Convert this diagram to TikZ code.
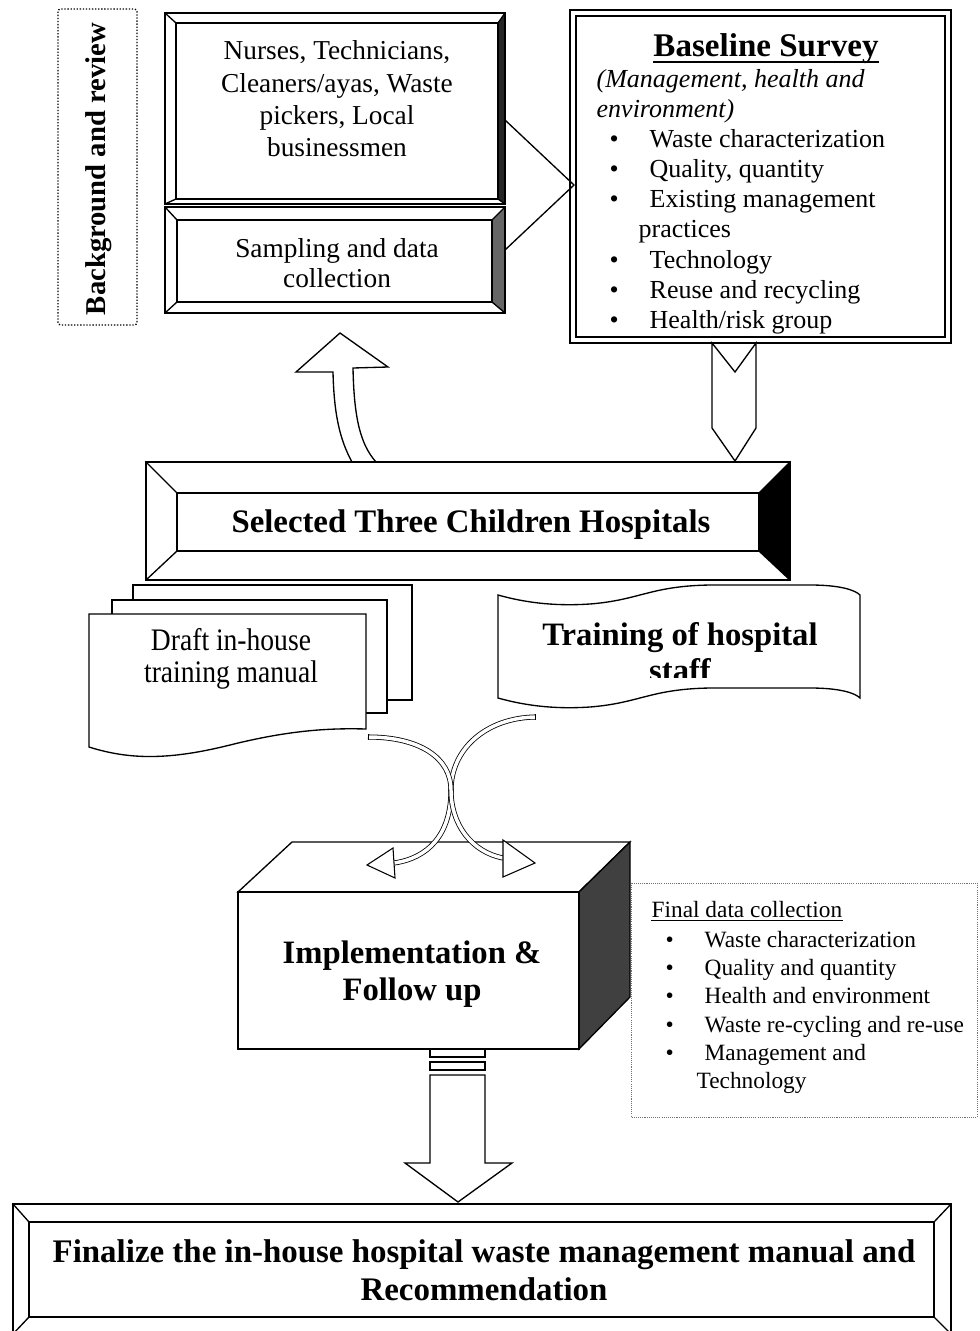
\documentclass[tikz,border=0pt]{standalone}
\usepackage{fontspec}
\setmainfont{Liberation Serif}
\newfontfamily\condfont[FakeStretch=0.88]{Liberation Serif}
\newcommand\fs[2]{\fontsize{#1}{#2}\selectfont}
\newcommand\cblk[1]{\vtop{\halign{\hfil##\hfil\cr#1\crcr}}}
\newcommand\lblk[1]{\vtop{\halign{##\hfil\cr#1\crcr}}}
\newcommand\bsb{\hspace*{9.75pt}\makebox[30pt][l]{\textbullet}}
\newcommand\fdb{\hspace*{10.5pt}\makebox[29.25pt][l]{\textbullet}}
\begin{document}
\begin{tikzpicture}[x=0.75pt,y=-0.75pt,line width=1pt,line join=miter,
  txt/.style={inner sep=0pt,anchor=base},
  hollow/.style={draw=black,line width=0.6pt,double=white,double distance=2.6pt},
  headtri/.style={draw=black,line width=0.8pt,fill=white}]
\fill[white] (0,0) rectangle (980,1331);
\useasboundingbox (0,0) rectangle (980,1331);

% ---------- Background and review ----------
\draw[line width=1pt,dash pattern=on 1pt off 1.3pt,rounded corners=2pt] (58,9) rectangle (137,325);
\node[inner sep=0pt,rotate=90,font=\bfseries\fs{21.5}{26}] (bg) at (99,169) {Background and review};

% ---------- upper bevel box (stakeholders) ----------
\fill[black!85] (498,23) -- (505,13) -- (505,204) -- (498,199) -- cycle;
\draw (165,13) rectangle (505,204);
\draw (176,23) rectangle (498,199);
\draw (165,13) -- (176,23) (505,13) -- (498,23) (165,204) -- (176,199) (505,204) -- (498,199);
\node[txt,font=\fs{20.5}{24.2}] (staff) at (337,60)
  {\cblk{Nurses, Technicians,\cr Cleaners/ayas, Waste\cr pickers, Local\cr businessmen}};

% ---------- lower bevel box (sampling) ----------
\fill[black!60] (492,220) -- (505,207) -- (505,313) -- (492,302) -- cycle;
\draw (165,207) rectangle (505,313);
\draw (177,220) rectangle (492,302);
\draw (165,207) -- (177,220) (505,207) -- (492,220) (165,313) -- (177,302) (505,313) -- (492,302);
\node[txt,font=\fs{20.5}{22.5}] (samp) at (337,257) {\cblk{Sampling and data\cr collection}};

% arrow from boxes to baseline survey
\coordinate (tA) at (505,120);
\coordinate (tB) at (505,250);
\coordinate (tTip) at (574,185);
\draw (tA) -- (tTip) -- (tB);

% ---------- Baseline survey ----------
\draw (570,10) rectangle (951,343);
\draw (576,16) rectangle (945,337);
\node[txt,font=\bfseries\fs{24.8}{28}] (bst) at (766,57) {Baseline Survey};
\draw[line width=1.1pt] ([yshift=-3.8pt]bst.base west) -- ([yshift=-3.8pt]bst.base east);
\node[txt,anchor=base west,font=\fs{19.5}{22.5}] (bsl) at (596,88)
  {\lblk{\itshape (Management, health and\cr
         \itshape environment)\cr
         \bsb Waste characterization\cr
         \bsb Quality, quantity\cr
         \bsb Existing management\cr
         \hspace*{31.5pt}practices\cr
         \bsb Technology\cr
         \bsb Reuse and recycling\cr
         \bsb Health/risk group}};

% notched down arrow
\draw[fill=white] (712,343) -- (735,372) -- (756,343) -- (756,428) -- (735,461) -- (712,428) -- cycle;

% curved up arrow
\draw[fill=white] (340,333) -- (388,367) -- (353,368) .. controls (354,420) and (361,445) .. (376,462)
  -- (352,462) .. controls (340,440) and (334,415) .. (333,372) -- (296,372) -- cycle;

% ---------- Selected three children hospitals ----------
\fill[black] (759,493) -- (790,462) -- (790,580) -- (759,551) -- cycle;
\draw (146,462) rectangle (790,580);
\draw (177,493) rectangle (759,551);
\draw (146,462) -- (177,493) (790,462) -- (759,493) (146,580) -- (177,551) (790,580) -- (759,551);
\node[txt,font=\bfseries\fs{24.6}{28}] (sel) at (471,532) {Selected Three Children Hospitals};

% ---------- Draft manual (multi document) ----------
\draw[fill=white] (133,585) rectangle (412,700);
\draw[fill=white] (112,600) rectangle (387,713);
\draw[fill=white] (89,614) -- (366,614) -- (366,729) .. controls (330,728) and (290,730) .. (230,745)
  .. controls (170,760) and (130,760) .. (89,747) -- cycle;
\node[txt,font=\condfont\fs{23.5}{24}] (draft) at (231,650) {\cblk{Draft in-house\cr training manual}};

% ---------- Training of hospital staff (tape) ----------
\draw[fill=white] (498,595) .. controls (530,604) and (560,606) .. (590,604)
  .. controls (640,600) and (650,586) .. (710,585) -- (810,585)
  .. controls (840,585) and (855,590) .. (860,595) -- (860,698)
  .. controls (855,693) and (840,688) .. (810,688) -- (710,688)
  .. controls (650,689) and (640,703) .. (590,707)
  .. controls (560,709) and (530,707) .. (498,698) -- cycle;
\begin{scope}
  \clip (480,560) rectangle (880,677);
  \node[txt,font=\bfseries\fs{24.5}{27}] (train) at (680,645) {\cblk{Training of hospital\cr staff}};
\end{scope}

% ---------- Implementation box (3D) ----------
\draw[fill=white] (238,892) -- (292,842) -- (630,842) -- (579,892) -- cycle;
\draw[fill=black!75] (579,892) -- (630,842) -- (630,997) -- (579,1049) -- cycle;
\draw[fill=white] (238,892) rectangle (579,1049);
\node[txt,font=\bfseries\fs{24.5}{27.75}] (impl) at (412,963) {\cblk{Implementation \&\cr Follow up}};

% ---------- crossing curved arrows ----------
\draw[hollow] (535,717) .. controls (485,718) and (451,750) .. (451,790)
  .. controls (451,835) and (428,858) .. (394,863);
\draw[line width=0.6pt] (535,714.2) -- (535,719.8);
\draw[headtri] (367,865) -- (393,848) -- (395,878) -- cycle;
\draw[hollow] (368,737) .. controls (420,737) and (451,758) .. (451,790)
  .. controls (451,825) and (472,852) .. (503,858);
\draw[line width=0.6pt] (368,734.2) -- (368,739.8);
\draw[headtri] (535,863) -- (503,840) -- (503,877) -- cycle;

% ---------- Final data collection ----------
\draw[black!55,line width=0.6pt,dash pattern=on 0.8pt off 0.8pt] (631,883) rectangle (977,1117);
\node[txt,anchor=base west,font=\fs{17.5}{21.25}] (fdt) at (651,917) {Final data collection};
\draw[line width=0.6pt] ([yshift=-2.4pt]fdt.base west) -- ([yshift=-2.4pt]fdt.base east);
\node[txt,anchor=base west,font=\fs{17.5}{21.25}] (fdl) at (651,947)
  {\lblk{\fdb Waste characterization\cr
         \fdb Quality and quantity\cr
         \fdb Health and environment\cr
         \fdb Waste re-cycling and re-use\cr
         \fdb Management and\cr
         \hspace*{33.75pt}Technology}};

% ---------- striped down arrow ----------
\draw (430,1049) rectangle (485,1057);
\draw (430,1062) rectangle (485,1070);
\draw[fill=white] (430,1075) -- (430,1163) -- (405,1163) -- (458,1202) -- (512,1163) -- (485,1163) -- (485,1075) -- cycle;

% ---------- Finalize box ----------
\draw (13,1204) rectangle (951,1334);
\draw (29,1222) rectangle (934,1317);
\draw (13,1204) -- (29,1222) (951,1204) -- (934,1222) (13,1334) -- (29,1317) (951,1334) -- (934,1317);
\node[txt,font=\bfseries\fs{24.7}{28.5}] (fin) at (484,1262)
  {\cblk{Finalize the in-house hospital waste management manual and\cr Recommendation}};
\end{tikzpicture}
\end{document}
